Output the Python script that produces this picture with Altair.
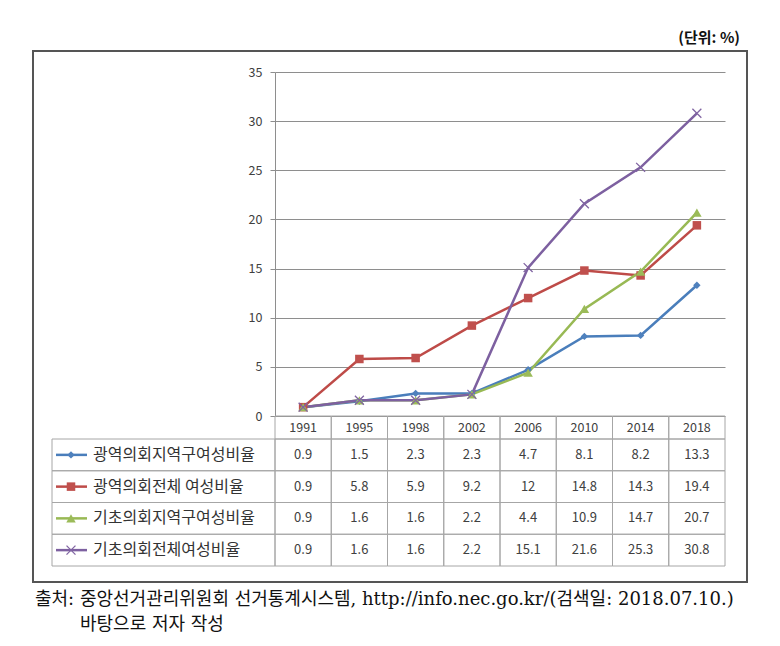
import altair as alt
import pandas as pd

years = ["1991", "1995", "1998", "2002", "2006", "2010", "2014", "2018"]
series_names = [
    "광역의회지역구여성비율",
    "광역의회전체 여성비율",
    "기초의회지역구여성비율",
    "기초의회전체여성비율",
]
s1 = [0.9, 1.5, 2.3, 2.3, 4.7, 8.1, 8.2, 13.3]
s2 = [0.9, 5.8, 5.9, 9.2, 12, 14.8, 14.3, 19.4]
s3 = [0.9, 1.6, 1.6, 2.2, 4.4, 10.9, 14.7, 20.7]
s4 = [0.9, 1.6, 1.6, 2.2, 15.1, 21.6, 25.3, 30.8]
y_ticks = [0, 5, 10, 15, 20, 25, 30, 35]

unit_text = "(단위: %)"
source_line1 = "출처: 중앙선거관리위원회 선거통계시스템, http://info.nec.go.kr/(검색일: 2018.07.10.)"
source_line2 = "바탕으로 저자 작성"

# styles
line_colors = ["#4A7EBB", "#BE4B48", "#98B954", "#7D60A0"]
marker_colors = ["#4F81BD", "#C0504D", "#9BBB59", "#8064A2"]
shapes = ["diamond", "square", "triangle-up"]
sizes = [55, 90, 80]
FONT = "Noto Sans CJK KR"
GRID = "#8E8E8E"
TABLE = "#A6A6A6"

rows = []
for name, vals in zip(series_names, [s1, s2, s3, s4]):
    for yr, v in zip(years, vals):
        rows.append({"series": name, "year": yr, "value": v, "label": f"{v:g}"})
df = pd.DataFrame(rows)
sdf = pd.DataFrame({"series": series_names})
ydf = pd.DataFrame({"year": years})
one = pd.DataFrame({"a": [0]})

W, H = 450, 494
x_scale = alt.Scale(type="band", domain=years, paddingInner=0, paddingOuter=0)
X = alt.X("year:O", scale=x_scale, axis=None, bandPosition=0.5)
Xr = alt.X("year:O", scale=x_scale, axis=None)


def q_scale():
    return alt.Scale(domain=[0, 35], range=[344, 0], nice=False, zero=True)


y_q = alt.Y(
    "value:Q",
    scale=q_scale(),
    axis=alt.Axis(
        values=y_ticks, grid=True, gridColor=GRID, gridWidth=1,
        domainColor=GRID, tickColor=GRID, tickSize=5, labelPadding=8,
        labelFont=FONT, labelFontSize=12.5, labelColor="#404040", title=None,
    ),
)
y_q_noaxis = alt.Y("value:Q", scale=q_scale(), axis=None)


def tab_scale():
    return alt.Scale(type="band", domain=series_names, range=[367, 494], paddingInner=0, paddingOuter=0)


Yt = alt.Y("series:N", scale=tab_scale(), axis=None, bandPosition=0.5)
Ytr = alt.Y("series:N", scale=tab_scale(), axis=None)
color = alt.Color("series:N", scale=alt.Scale(domain=series_names, range=line_colors), legend=None)
fill = alt.Fill("series:N", scale=alt.Scale(domain=series_names, range=marker_colors), legend=None)
shape = alt.Shape("series:N", scale=alt.Scale(domain=series_names[:3], range=shapes), legend=None)
size = alt.Size("series:N", scale=alt.Scale(domain=series_names[:3], range=sizes), legend=None)
xshape = "M-1,-1L1,1M1,-1L-1,1"

# ---- plot ----
lines = alt.Chart(df).mark_line(strokeWidth=2.5).encode(x=X, y=y_q, color=color)
pts = alt.Chart(df).transform_filter(
    alt.FieldOneOfPredicate(field="series", oneOf=series_names[:3])
).mark_point(filled=True, opacity=1, strokeWidth=0).encode(
    x=X, y=y_q_noaxis, fill=fill, shape=shape, size=size
)
xpts = alt.Chart(df).transform_filter(
    alt.FieldEqualPredicate(field="series", equal=series_names[3])
).mark_point(shape=xshape, filled=False, size=80, strokeWidth=1.3, opacity=1, color=marker_colors[3]).encode(
    x=X, y=y_q_noaxis
)

# ---- table ----
header_cells = alt.Chart(ydf).mark_rect(fillOpacity=0, stroke=TABLE, strokeWidth=1).encode(
    x=Xr, y=alt.value(344), y2=alt.value(367)
)
header_text = alt.Chart(ydf).mark_text(font=FONT, fontSize=12.5, color="#404040", baseline="middle").encode(
    x=X, y=alt.value(356), text="year:N"
)
cells = alt.Chart(df).mark_rect(fillOpacity=0, stroke=TABLE, strokeWidth=1).encode(x=Xr, y=Ytr)
label_cells = alt.Chart(sdf).mark_rect(fillOpacity=0, stroke=TABLE, strokeWidth=1).encode(
    x=alt.value(-223), x2=alt.value(0), y=Ytr
)
cell_text = alt.Chart(df).mark_text(font=FONT, fontSize=13, color="#404040", baseline="middle").encode(
    x=X, y=Yt, text="label:N"
)
icon_lines = alt.Chart(sdf).mark_rule(strokeWidth=2.5).encode(
    x=alt.value(-219), x2=alt.value(-188), y=Yt, color=color
)
icon_pts = alt.Chart(sdf).transform_filter(
    alt.FieldOneOfPredicate(field="series", oneOf=series_names[:3])
).mark_point(filled=True, opacity=1, strokeWidth=0).encode(
    x=alt.value(-204), y=Yt, fill=fill, shape=shape, size=size
)
icon_x = alt.Chart(sdf).transform_filter(
    alt.FieldEqualPredicate(field="series", equal=series_names[3])
).mark_point(shape=xshape, filled=False, size=80, strokeWidth=1.3, opacity=1, color=marker_colors[3]).encode(
    x=alt.value(-204), y=Yt
)
label_text = alt.Chart(sdf).mark_text(font=FONT, fontSize=16, color="#333333", align="left", baseline="middle").encode(
    x=alt.value(-182), y=Yt, text="series:N"
)

# ---- frame and notes ----
frame = alt.Chart(one).mark_rect(fillOpacity=0, stroke="#555555", strokeWidth=2).encode(
    x=alt.value(-242), x2=alt.value(472), y=alt.value(-21), y2=alt.value(510)
)
unit = alt.Chart(one).mark_text(text=unit_text, font=FONT, fontSize=15, fontWeight="bold", color="#111111",
                                align="right", baseline="middle").encode(x=alt.value(465), y=alt.value(-34))
src_font = "DejaVu Serif, Noto Sans CJK KR"
src1 = alt.Chart(one).mark_text(text=source_line1, font=src_font, fontSize=18, color="#111111",
                                align="left", baseline="middle").encode(x=alt.value(-240), y=alt.value(528))
src2 = alt.Chart(one).mark_text(text=source_line2, font=src_font, fontSize=18, color="#111111",
                                align="left", baseline="middle").encode(x=alt.value(-195), y=alt.value(553))

chart = alt.layer(
    frame, header_cells, cells, label_cells,
    lines, pts, xpts,
    header_text, cell_text, icon_lines, icon_pts, icon_x, label_text,
    unit, src1, src2,
).resolve_scale(y="independent").properties(
    width=W, height=H,
    autosize=alt.AutoSizeParams(type="none"),
    padding={"left": 267, "top": 64, "right": 47, "bottom": 72},
).configure_view(strokeWidth=0)

chart.save("out.html", embed_options={"renderer": "svg", "actions": False})
